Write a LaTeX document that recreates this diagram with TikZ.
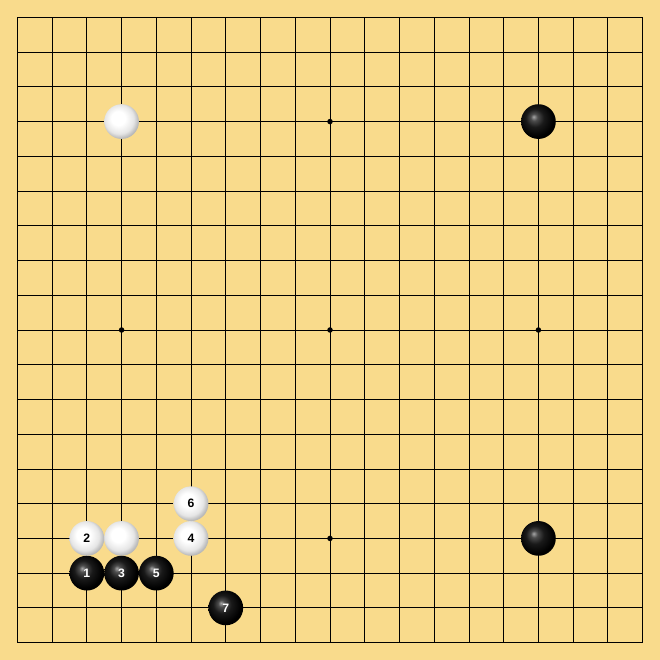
\documentclass[tikz,border=0pt]{standalone}
\usepackage{tikz}
\usepackage{fontspec}
\newfontfamily\stonefont{Liberation Sans}
\definecolor{boardwood}{RGB}{249,219,140}
\pgfdeclareradialshading{blackshade}{\pgfpoint{-7bp}{7bp}}{color(0bp)=(black!35); color(5bp)=(black!70); color(13bp)=(black!90); color(25bp)=(black); color(50bp)=(black)}
\pgfdeclareradialshading{whiteshade}{\pgfpoint{-6bp}{6bp}}{color(0bp)=(white); color(10bp)=(white); color(21bp)=(black!10); color(27bp)=(black!28); color(50bp)=(black!28)}
\begin{document}
\begin{tikzpicture}[
  bstone/.style={circle,minimum size=1cm,inner sep=0pt,shading=blackshade,
    text=white,font=\stonefont\bfseries\fontsize{10}{12}\selectfont},
  wstone/.style={circle,minimum size=1cm,inner sep=0pt,shading=whiteshade,
    text=black,font=\stonefont\bfseries\fontsize{10}{12}\selectfont},
  hoshi/.style={circle,fill=black,minimum size=4.5pt,inner sep=0pt}]
\useasboundingbox (-0.5,-0.5) rectangle (18.5,18.5);
\fill[boardwood] (-0.5,-0.5) rectangle (18.5,18.5);
\draw[line width=0.7pt] (0,0) grid (18,18);
\draw[line width=0.9pt] (0,0) rectangle (18,18);
% star points
\node[hoshi] (h1) at (3,15) {};
\node[hoshi] (h2) at (9,15) {};
\node[hoshi] (h3) at (15,15) {};
\node[hoshi] (h4) at (3,9) {};
\node[hoshi] (h5) at (9,9) {};
\node[hoshi] (h6) at (15,9) {};
\node[hoshi] (h7) at (3,3) {};
\node[hoshi] (h8) at (9,3) {};
\node[hoshi] (h9) at (15,3) {};
% stones already on the board
\node[wstone] (wa) at (3,15) {};
\node[bstone] (ba) at (15,15) {};
\node[bstone] (bb) at (15,3) {};
\node[wstone] (wb) at (3,3) {};
% numbered moves
\node[bstone] (m1) at (2,2) {1};
\node[wstone] (m2) at (2,3) {2};
\node[bstone] (m3) at (3,2) {3};
\node[wstone] (m4) at (5,3) {4};
\node[bstone] (m5) at (4,2) {5};
\node[wstone] (m6) at (5,4) {6};
\node[bstone] (m7) at (6,1) {7};
\end{tikzpicture}
\end{document}
